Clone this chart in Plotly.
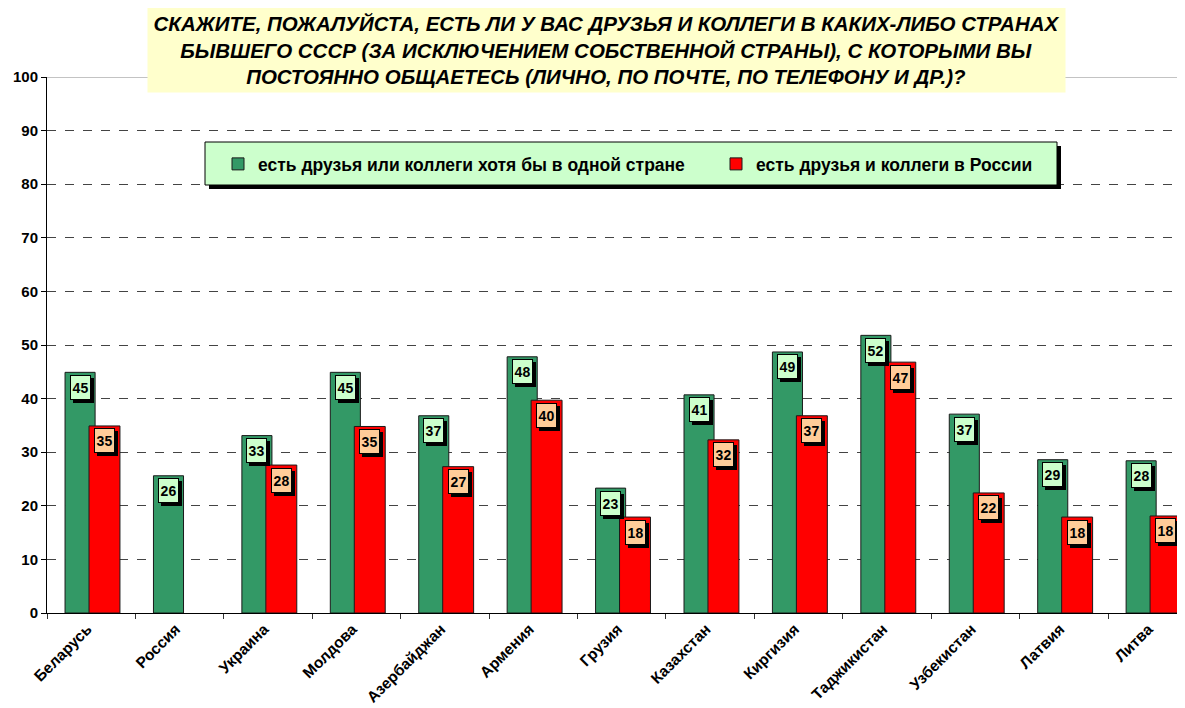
import plotly.graph_objects as go

countries = ["Беларусь", "Россия", "Украина", "Молдова", "Азербайджан", "Армения", "Грузия",
             "Казахстан", "Киргизия", "Таджикистан", "Узбекистан", "Латвия", "Литва"]
any_country = [44.9, 25.6, 33.1, 44.9, 36.8, 47.8, 23.3, 40.7, 48.7, 51.8, 37.1, 28.6, 28.4]
in_russia = [34.9, None, 27.6, 34.8, 27.3, 39.7, 17.9, 32.3, 36.8, 46.8, 22.4, 17.9, 18.1]

name_any = "есть друзья или коллеги хотя бы в одной стране"
name_rus = "есть друзья и коллеги в России"
title = ("СКАЖИТЕ, ПОЖАЛУЙСТА, ЕСТЬ ЛИ У ВАС ДРУЗЬЯ И КОЛЛЕГИ В КАКИХ-ЛИБО СТРАНАХ<br>"
         "БЫВШЕГО СССР (ЗА ИСКЛЮЧЕНИЕМ СОБСТВЕННОЙ СТРАНЫ), С КОТОРЫМИ ВЫ<br>"
         "ПОСТОЯННО ОБЩАЕТЕСЬ (ЛИЧНО, ПО ПОЧТЕ, ПО ТЕЛЕФОНУ И ДР.)?")

# page body has an 8px margin, so the figure is drawn 8px right/down of the window corner
OFF = 8
W, H = 1185 - OFF, 708 - OFF
L, T, B, R = 47 - OFF, 77 - OFF, 95, 0
pw, ph = W - L - R, H - T - B
FONT = "Liberation Sans, Arial, sans-serif"


def px(x):
    # screen x -> paper
    return (x - OFF - L) / pw


def py(y):
    # screen y -> paper
    return (H - B - (y - OFF)) / ph


GREEN, RED = "#339966", "#FF0000"
G_OFF, G_W = -0.296, 0.34
R_OFF, R_W = -0.025, 0.35

fig = go.Figure()
fig.add_trace(go.Bar(x=countries, y=any_country, name=name_any, marker_color=GREEN,
                     marker_line=dict(color="#1a1a1a", width=1), offset=G_OFF, width=G_W,
                     legend="legend"))
fig.add_trace(go.Bar(x=countries, y=in_russia, name=name_rus, marker_color=RED,
                     marker_line=dict(color="#1a1a1a", width=1), offset=R_OFF, width=R_W,
                     legend="legend2"))

annotations = []


def add_label(xc, v, bg):
    txt = "<b>%d</b>" % int(v + 0.5)
    common = dict(x=xc, y=v, xref="x", yref="y", showarrow=False, yanchor="middle",
                  width=17, height=21, borderpad=1, borderwidth=1)
    # drop shadow
    annotations.append(dict(common, text=" ", font=dict(family=FONT, size=14, color="black"),
                            bgcolor="black", bordercolor="black", xshift=3, yshift=-18))
    annotations.append(dict(common, text=txt, font=dict(family=FONT, size=14, color="black"),
                            bgcolor=bg, bordercolor="black", yshift=-15))


for i, v in enumerate(any_country):
    add_label(i + G_OFF + G_W / 2, v, "#CCFFCC")
for i, v in enumerate(in_russia):
    if v is not None:
        add_label(i + R_OFF + R_W / 2, v, "#FFCC99")

annotations.append(dict(x=px(606.5), y=py(50), xref="paper", yref="paper", showarrow=False,
                        text="<b><i>%s</i></b>" % title, width=917, height=84, borderpad=0,
                        bgcolor="#FFFFCC", font=dict(family=FONT, size=20.5, color="black"),
                        xanchor="center", yanchor="middle", align="center"))

shapes = [
    dict(type="line", xref="paper", yref="y", x0=0, x1=1, y0=100, y1=100,
         line=dict(color="#888888", width=1)),
    dict(type="rect", xref="paper", yref="paper", x0=px(209), x1=px(1061), y0=py(189), y1=py(146),
         fillcolor="black", line=dict(width=0)),
    dict(type="rect", xref="paper", yref="paper", x0=px(205), x1=px(1057), y0=py(185), y1=py(142),
         fillcolor="#CCFFCC", line=dict(color="black", width=1)),
]

legend_style = dict(orientation="h", xanchor="left", yanchor="middle", bgcolor="rgba(0,0,0,0)",
                    borderwidth=0, font=dict(family=FONT, size=17.5, color="black", weight="bold"))

fig.update_layout(
    width=W, height=H,
    margin=dict(l=L, r=R, t=T, b=B),
    paper_bgcolor="white", plot_bgcolor="white",
    barmode="overlay",
    font=dict(family=FONT, color="black"),
    showlegend=True,
    legend=dict(legend_style, x=px(218), y=py(164)),
    legend2=dict(legend_style, x=px(716), y=py(164)),
    annotations=annotations,
    shapes=shapes,
    xaxis=dict(type="category", range=[-0.5, 12.37], tickson="boundaries", ticks="outside",
               ticklen=5, tickcolor="#333333", showline=True, linecolor="black", linewidth=1,
               tickangle=-45, tickfont=dict(family=FONT, size=15.5, color="black", weight="bold"),
               ticklabelshift=-4, showgrid=False, fixedrange=True, automargin=False),
    yaxis=dict(range=[0, 100], tickvals=list(range(0, 101, 10)), ticks="outside", ticklen=5,
               tickcolor="black", showline=True, linecolor="black", linewidth=1,
               showgrid=True, gridcolor="#444444", griddash="dash", gridwidth=1, automargin=False,
               zeroline=False, tickfont=dict(family=FONT, size=15, color="black", weight="bold")),
)

fig.write_html("out.html")
